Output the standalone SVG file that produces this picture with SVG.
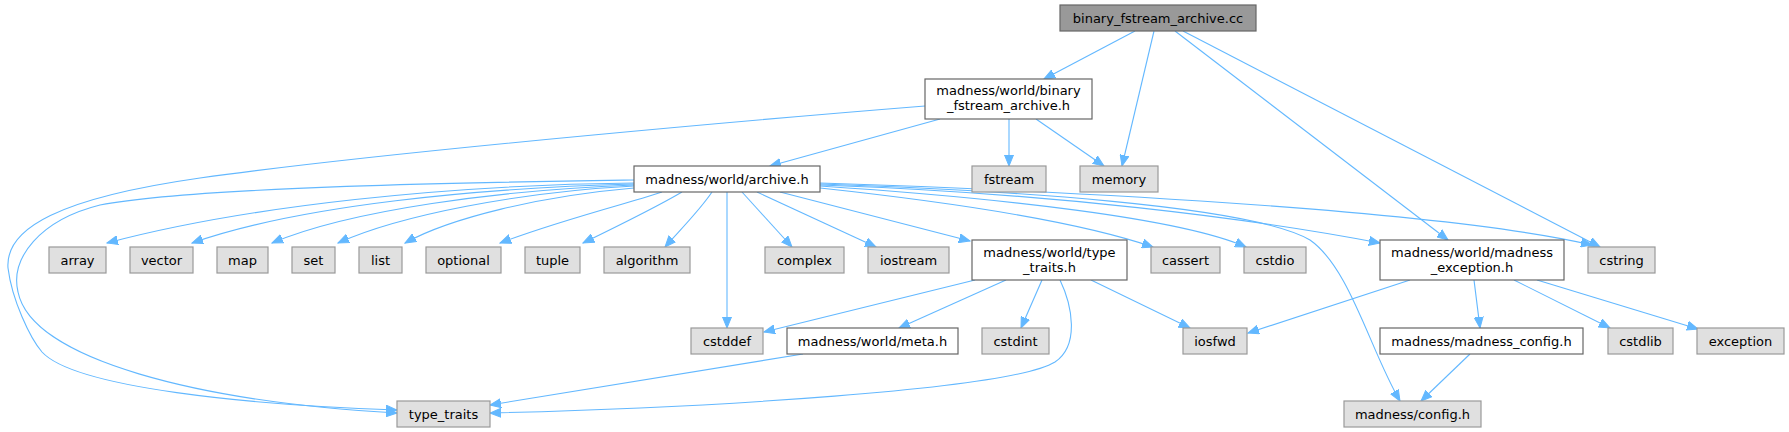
<svg xmlns="http://www.w3.org/2000/svg" width="1789" height="432" viewBox="0 0 1789 432">
<style>
.e{fill:none;stroke:#63b8ff;stroke-width:1.1;marker-end:url(#arr)}
.ext rect{fill:#e0e0e0;stroke:#999999;stroke-width:1.2}
.int rect{fill:#ffffff;stroke:#666666;stroke-width:1.2}
.root rect{fill:#999999;stroke:#666666;stroke-width:1.2}
text{font-family:"DejaVu Sans","Liberation Sans",sans-serif;font-size:13px;fill:#000000;text-anchor:middle}
</style>
<defs>
<marker id="arr" markerWidth="12" markerHeight="10" refX="11" refY="5" orient="auto" markerUnits="userSpaceOnUse">
<path d="M0,0.5 L11,5 L0,9.5 z" fill="#63b8ff" stroke="#63b8ff" stroke-width="1"/>
</marker>
</defs>
<rect x="0" y="0" width="1789" height="432" fill="#ffffff"/>
<g id="edges">
<path class="e" d="M1135,31 L1044,79"/>
<path class="e" d="M1154,31 L1122,166"/>
<path class="e" d="M1175,31 L1448,240"/>
<path class="e" d="M1183,31 L1600,247"/>
<path class="e" d="M925,106 C800,116 400,150 200,178 C60,198 5,228 8,268 C12,300 30,338 42,352 C75,388 250,405 397,410"/>
<path class="e" d="M940,119 L770,166"/>
<path class="e" d="M1009,119 L1009,166"/>
<path class="e" d="M1036,119 L1104,166"/>
<path class="e" d="M634,180 C500,182 200,186 100,205 C40,220 10,258 18,292 C32,360 200,402 397,413"/>
<path class="e" d="M634,183 C450,185 250,205 107,243"/>
<path class="e" d="M634,184 C480,188 300,205 192,243"/>
<path class="e" d="M634,185 C500,190 350,210 272,243"/>
<path class="e" d="M634,186 C520,192 400,215 338,243"/>
<path class="e" d="M634,188 C540,196 450,218 405,243"/>
<path class="e" d="M662,192 C640,200 560,220 500,243"/>
<path class="e" d="M682,192 C660,205 620,225 583,243"/>
<path class="e" d="M712,192 C700,210 680,230 665,247"/>
<path class="e" d="M727,192 L727,328"/>
<path class="e" d="M742,192 L792,247"/>
<path class="e" d="M757,192 L876,247"/>
<path class="e" d="M780,192 L970,241"/>
<path class="e" d="M820,188 C950,202 1080,222 1153,247"/>
<path class="e" d="M820,186 C1000,198 1180,218 1246,247"/>
<path class="e" d="M820,185 C1050,193 1250,218 1380,243"/>
<path class="e" d="M820,183 C1100,192 1450,212 1592,245"/>
<path class="e" d="M820,184 C1000,190 1250,205 1310,240 C1350,268 1370,350 1400,401"/>
<path class="e" d="M975,280 L764,332"/>
<path class="e" d="M1006,280 L899,328"/>
<path class="e" d="M1042,280 L1021,328"/>
<path class="e" d="M1060,280 C1072,305 1080,345 1055,362 C1010,390 700,408 490,413"/>
<path class="e" d="M1091,280 L1190,328"/>
<path class="e" d="M803,354 L490,405"/>
<path class="e" d="M1410,280 L1248,333"/>
<path class="e" d="M1474,280 L1480,328"/>
<path class="e" d="M1514,280 L1610,328"/>
<path class="e" d="M1537,280 L1698,329"/>
<path class="e" d="M1470,354 L1421,401"/>
</g>
<g id="n_root" class="root"><rect x="1060" y="5" width="196" height="26"/><text x="1158" y="22.5">binary_fstream_archive.cc</text></g>
<g id="n_bfa" class="int"><rect x="925" y="79" width="167" height="40"/><text x="1008.5" y="95">madness/world/binary</text><text x="1008.5" y="110">_fstream_archive.h</text></g>
<g id="n_archive" class="int"><rect x="634" y="166" width="186" height="26"/><text x="727" y="183.5">madness/world/archive.h</text></g>
<g id="n_fstream" class="ext"><rect x="972" y="166" width="74" height="26"/><text x="1009" y="183.5">fstream</text></g>
<g id="n_memory" class="ext"><rect x="1080" y="166" width="78" height="26"/><text x="1119" y="183.5">memory</text></g>
<g id="n_array" class="ext"><rect x="49" y="247" width="57" height="26"/><text x="77.5" y="264.5">array</text></g>
<g id="n_vector" class="ext"><rect x="130" y="247" width="63" height="26"/><text x="161.5" y="264.5">vector</text></g>
<g id="n_map" class="ext"><rect x="217" y="247" width="51" height="26"/><text x="242.5" y="264.5">map</text></g>
<g id="n_set" class="ext"><rect x="292" y="247" width="43" height="26"/><text x="313.5" y="264.5">set</text></g>
<g id="n_list" class="ext"><rect x="359" y="247" width="43" height="26"/><text x="380.5" y="264.5">list</text></g>
<g id="n_optional" class="ext"><rect x="426" y="247" width="75" height="26"/><text x="463.5" y="264.5">optional</text></g>
<g id="n_tuple" class="ext"><rect x="525" y="247" width="55" height="26"/><text x="552.5" y="264.5">tuple</text></g>
<g id="n_algorithm" class="ext"><rect x="604" y="247" width="86" height="26"/><text x="647" y="264.5">algorithm</text></g>
<g id="n_complex" class="ext"><rect x="765" y="247" width="79" height="26"/><text x="804.5" y="264.5">complex</text></g>
<g id="n_iostream" class="ext"><rect x="868" y="247" width="81" height="26"/><text x="908.5" y="264.5">iostream</text></g>
<g id="n_typetraitsh" class="int"><rect x="972" y="240" width="155" height="40"/><text x="1049.5" y="257">madness/world/type</text><text x="1049.5" y="272">_traits.h</text></g>
<g id="n_cassert" class="ext"><rect x="1151" y="247" width="69" height="26"/><text x="1185.5" y="264.5">cassert</text></g>
<g id="n_cstdio" class="ext"><rect x="1244" y="247" width="62" height="26"/><text x="1275" y="264.5">cstdio</text></g>
<g id="n_mexc" class="int"><rect x="1380" y="240" width="184" height="40"/><text x="1472" y="257">madness/world/madness</text><text x="1472" y="272">_exception.h</text></g>
<g id="n_cstring" class="ext"><rect x="1588" y="247" width="67" height="26"/><text x="1621.5" y="264.5">cstring</text></g>
<g id="n_cstddef" class="ext"><rect x="691" y="328" width="72" height="26"/><text x="727" y="345.5">cstddef</text></g>
<g id="n_meta" class="int"><rect x="787" y="328" width="171" height="26"/><text x="872.5" y="345.5">madness/world/meta.h</text></g>
<g id="n_cstdint" class="ext"><rect x="982" y="328" width="67" height="26"/><text x="1015.5" y="345.5">cstdint</text></g>
<g id="n_iosfwd" class="ext"><rect x="1183" y="328" width="64" height="26"/><text x="1215" y="345.5">iosfwd</text></g>
<g id="n_mconfig" class="int"><rect x="1380" y="328" width="203" height="26"/><text x="1481.5" y="345.5">madness/madness_config.h</text></g>
<g id="n_cstdlib" class="ext"><rect x="1608" y="328" width="65" height="26"/><text x="1640.5" y="345.5">cstdlib</text></g>
<g id="n_exception" class="ext"><rect x="1697" y="328" width="87" height="26"/><text x="1740.5" y="345.5">exception</text></g>
<g id="n_typetraits" class="ext"><rect x="397" y="401" width="93" height="26"/><text x="443.5" y="418.5">type_traits</text></g>
<g id="n_config" class="ext"><rect x="1344" y="401" width="137" height="26"/><text x="1412.5" y="418.5">madness/config.h</text></g>
</svg>
